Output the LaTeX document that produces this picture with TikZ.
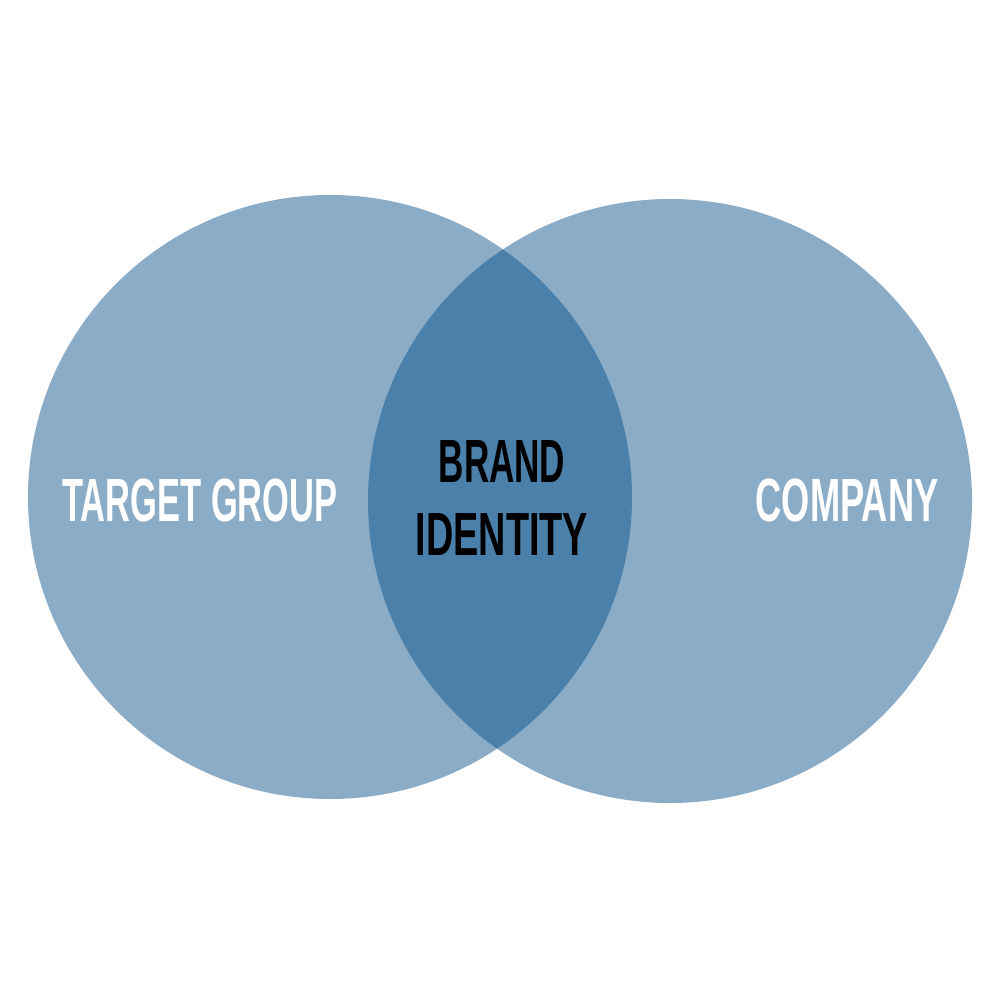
\documentclass[tikz,border=0pt]{standalone}
\usepackage{fontspec}
\setmainfont{Liberation Sans}
\definecolor{light}{HTML}{8AACC7}
\definecolor{dark}{HTML}{4A80A9}
\begin{document}
\begin{tikzpicture}[x=1pt,y=-1pt,
  lbl/.style={inner sep=0pt,font=\fontsize{61}{70}\selectfont\bfseries}]
\useasboundingbox (0,0) rectangle (1000,1000);
\fill[white] (0,0) rectangle (1000,1000);
\fill[light] (330,497) circle (302);
\fill[light] (670,501) circle (302);
\begin{scope}
\clip (330,497) circle (302);
\fill[dark] (670,501) circle (302);
\end{scope}
\node[lbl,white] (tg) at (200,500) {\scalebox{0.565}[1]{TARGET GROUP}};
\node[lbl,white] (co) at (847,500) {\scalebox{0.595}[1]{COMPANY}};
\node[lbl,black] (br) at (502,462) {\scalebox{0.575}[1]{BRAND}};
\node[lbl,black] (id) at (502,535) {\scalebox{0.62}[1]{IDENTITY}};
\end{tikzpicture}
\end{document}
